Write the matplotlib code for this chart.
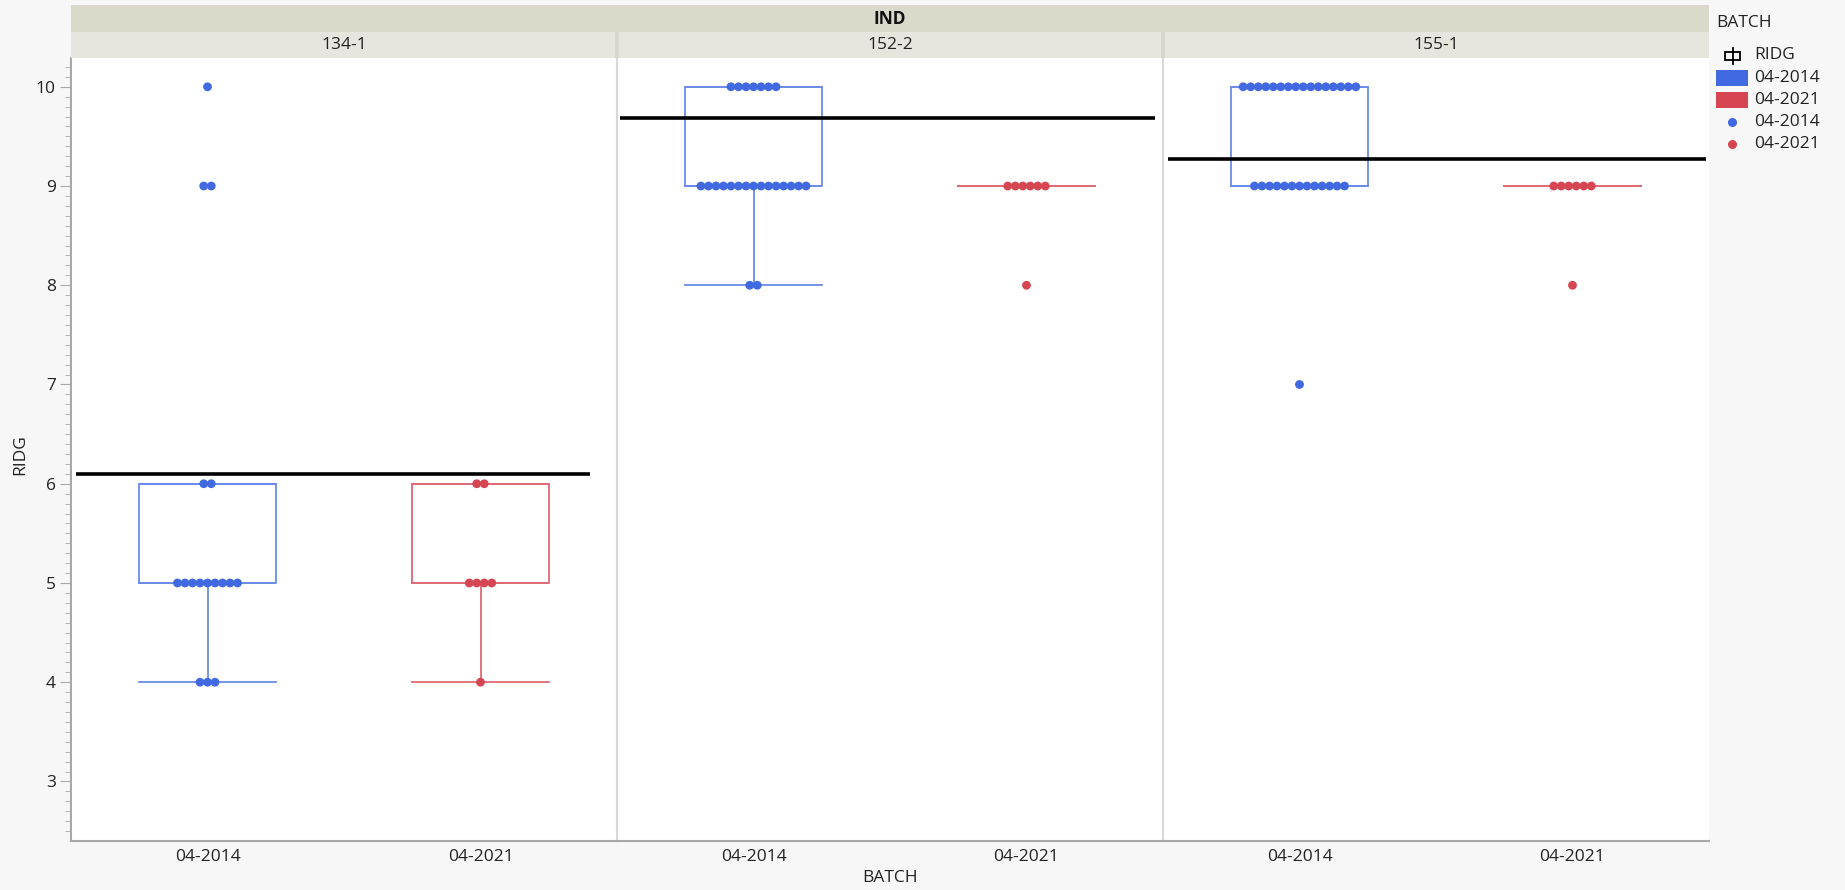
import numpy as np
import matplotlib
matplotlib.use("Agg")
import matplotlib.pyplot as plt
from matplotlib.patches import Rectangle

plt.rcParams['font.family'] = ['Open Sans', 'DejaVu Sans']

# data
panels = ["134-1", "152-2", "155-1"]
batches = ["04-2014", "04-2021"]

ridg_134_2014 = [10, 9, 9, 6, 6, 5, 5, 5, 5, 5, 5, 5, 5, 5, 4, 4, 4]
ridg_134_2021 = [6, 6, 5, 5, 5, 5, 4]
ridg_152_2014 = [10] * 7 + [9] * 15 + [8] * 2
ridg_152_2021 = [9] * 6 + [8]
ridg_155_2014 = [10] * 16 + [9] * 13 + [7]
ridg_155_2021 = [9] * 6 + [8]

groups = [
    [ridg_134_2014, ridg_134_2021],
    [ridg_152_2014, ridg_152_2021],
    [ridg_155_2014, ridg_155_2021],
]
ref_lines = [6.1, 9.69, 9.27]
ref_span = [(-0.48, 1.40), (-0.49, 1.47), (-0.48, 1.49)]

colors = ["#4169E1", "#D64552"]
box_colors = ["#6A8BE8", "#DE6A74"]
bg = "#F7F7F7"
W, H = 1845, 890


def box_stats(vals):
    # JMP style quantiles
    v = np.asarray(vals, dtype=float)
    q1, med, q3 = np.percentile(v, [25, 50, 75], method="weibull")
    iqr = q3 - q1
    lo_f, hi_f = q1 - 1.5 * iqr, q3 + 1.5 * iqr
    inside = v[(v >= lo_f) & (v <= hi_f)]
    return dict(q1=q1, med=med, q3=q3, whislo=inside.min(), whishi=inside.max(), fliers=[])


def swarm_x(vals, center, step=0.0275):
    xs, ys = [], []
    for y in sorted(set(vals), reverse=True):
        n = vals.count(y)
        off = (np.arange(n) - (n - 1) / 2) * step
        xs.extend(center + off)
        ys.extend([y] * n)
    return xs, ys


fig = plt.figure(figsize=(W / 100, H / 100), dpi=100, facecolor=bg)

left, right, top, bottom = 71, 1709, 58, 841
pw = (right - left) / 3
axes = []
for i in range(3):
    ax = fig.add_axes([(left + i * pw) / W, 1 - bottom / H, pw / W, (bottom - top) / H])
    ax.set_facecolor("white")
    axes.append(ax)

for i, ax in enumerate(axes):
    for j, vals in enumerate(groups[i]):
        st = box_stats(vals)
        ax.bxp([st], positions=[j], widths=0.5, capwidths=0.5, showfliers=False,
               boxprops=dict(color=box_colors[j], lw=1.3),
               whiskerprops=dict(color=box_colors[j], lw=1.3),
               capprops=dict(color=box_colors[j], lw=1.3),
               medianprops=dict(color=box_colors[j], lw=1.3), zorder=2)
        xs, ys = swarm_x(vals, j)
        ax.scatter(xs, ys, s=40, color=colors[j], edgecolors="none", zorder=3)
    x0, x1 = ref_span[i]
    ax.plot([x0, x1], [ref_lines[i]] * 2, color="black", lw=2.6, zorder=4, solid_capstyle="butt")

    ax.set_xlim(-0.5, 1.5)
    ax.set_ylim(2.4, 10.29)
    ax.set_xticks([0, 1])
    ax.set_xticklabels(batches, fontsize=12.5, color="#222222")
    ax.tick_params(axis="x", length=0, pad=6)
    for s in ["top", "right"]:
        ax.spines[s].set_visible(False)
    ax.spines["bottom"].set_color("#A8A8A8")
    ax.spines["bottom"].set_linewidth(1.5)
    if i == 0:
        ax.set_yticks(range(3, 11))
        ax.set_yticks(np.arange(2.5, 10.3, 0.1), minor=True)
        ax.tick_params(axis="y", which="major", length=8, color="#A8A8A8", labelsize=12.5,
                       labelcolor="#222222", pad=3)
        ax.tick_params(axis="y", which="minor", length=4, color="#A8A8A8")
        ax.spines["left"].set_color("#A8A8A8")
        ax.spines["left"].set_linewidth(1.5)
    else:
        ax.set_yticks([])
        ax.spines["left"].set_color("#D8D8D8")
        ax.spines["left"].set_linewidth(1.5)

# header strips
fig.patches.append(Rectangle((left / W, 1 - 32 / H), (right - left) / W, 27 / H,
                             transform=fig.transFigure, facecolor="#DBD9CA", edgecolor="none"))
fig.text((left + right) / 2 / W, 1 - 19 / H, "IND", ha="center", va="center",
         fontsize=12.5, fontweight="bold", color="#111111")
for i, name in enumerate(panels):
    x0 = left + i * pw
    fig.patches.append(Rectangle((x0 / W, 1 - 58 / H), pw / W, 26 / H,
                                 transform=fig.transFigure, facecolor="#E7E6DE", edgecolor="none"))
    if i > 0:
        fig.patches.append(Rectangle(((x0 - 2) / W, 1 - 58 / H), 4 / W, 26 / H,
                                     transform=fig.transFigure, facecolor="#D7D6CF", edgecolor="none"))
    fig.text((x0 + pw / 2) / W, 1 - 45 / H, name, ha="center", va="center",
             fontsize=12.5, color="#222222")

# axis titles
fig.text(20 / W, 1 - 455 / H, "RIDG", rotation=90, ha="center", va="center",
         fontsize=12.5, color="#222222")
fig.text((left + right) / 2 / W, 1 - 878 / H, "BATCH", ha="center", va="center",
         fontsize=12.5, color="#222222")

# legend
lx = 1716
fig.text(lx / W, 1 - 23 / H, "BATCH", ha="left", va="center", fontsize=12.5, color="#222222")
# box plot icon: small box with a vertical line through the middle
fig.patches.append(Rectangle(((lx + 9) / W, 1 - 60 / H), 15 / W, 8 / H, transform=fig.transFigure,
                             facecolor="none", edgecolor="black", lw=1.3))
fig.lines.append(plt.Line2D([(lx + 16.5) / W] * 2, [1 - 64 / H, 1 - 48 / H],
                            transform=fig.transFigure, color="black", lw=1.3))
fig.text((lx + 38) / W, 1 - 55 / H, "RIDG", ha="left", va="center", fontsize=12.5, color="#222222")
for k in range(2):
    yc = 78 + 22 * k
    fig.patches.append(Rectangle((lx / W, 1 - (yc + 8) / H), 32 / W, 16 / H,
                                 transform=fig.transFigure, facecolor=colors[k], edgecolor="none"))
    fig.text((lx + 38) / W, 1 - yc / H, batches[k], ha="left", va="center", fontsize=12.5,
             color="#222222")
for k in range(2):
    yc = 122 + 22 * k
    fig.lines.append(plt.Line2D([(lx + 16) / W], [1 - yc / H], transform=fig.transFigure,
                                marker="o", ms=5.5, color=colors[k], lw=0))
    fig.text((lx + 38) / W, 1 - yc / H, batches[k], ha="left", va="center", fontsize=12.5,
             color="#222222")

fig.savefig("out.png", dpi=100, facecolor=bg)
